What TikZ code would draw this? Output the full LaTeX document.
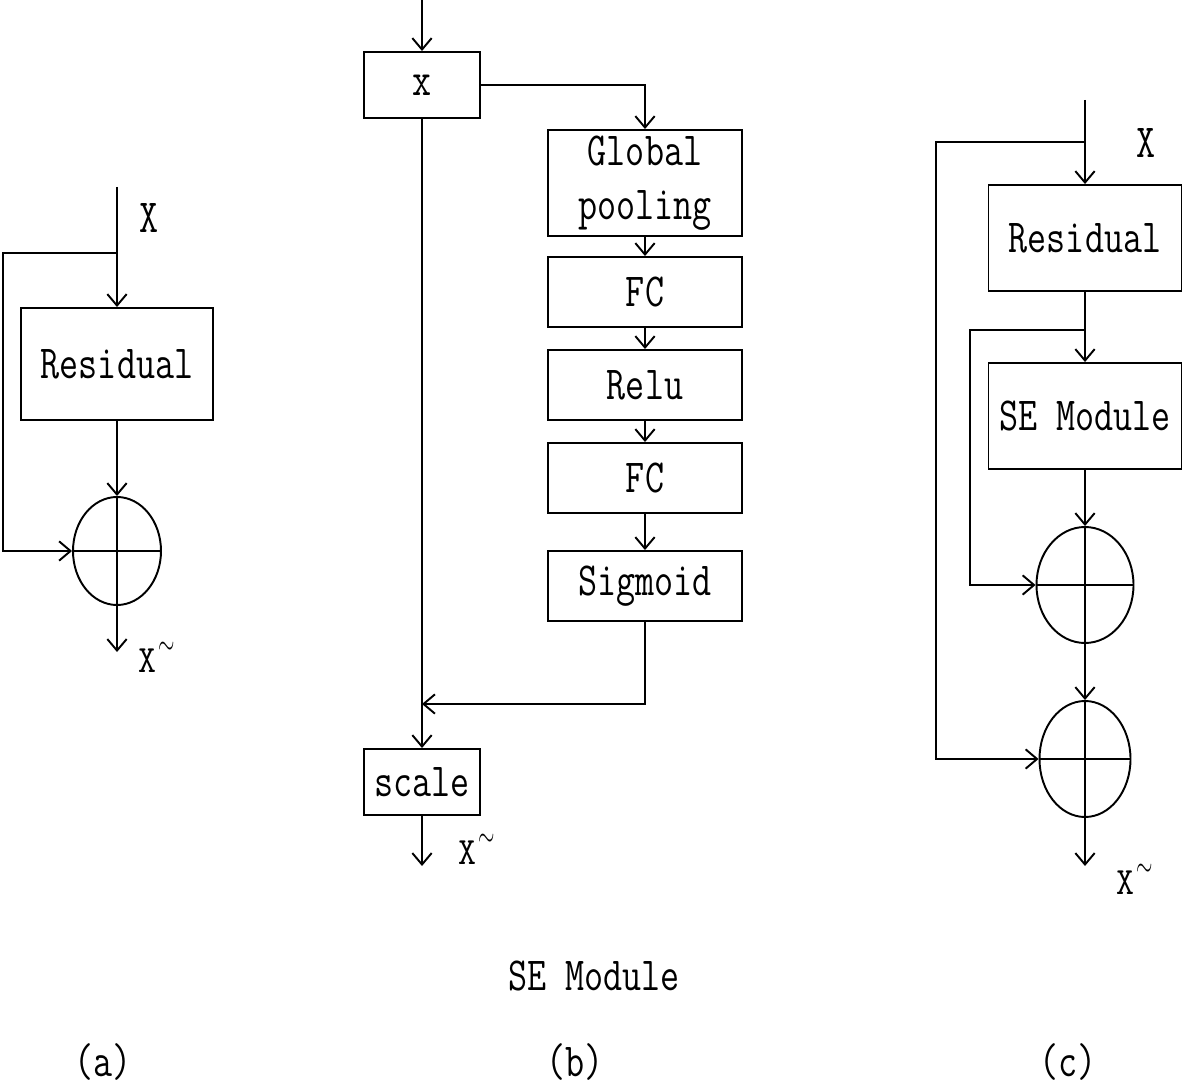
\documentclass[tikz,border=0pt]{standalone}
\usepackage{fontspec}
\usepackage{graphicx}
\newfontfamily\figfont{Latin Modern Mono}[FakeStretch=0.78]
\newfontfamily\lblfont{Latin Modern Mono}[FakeStretch=0.9]
\usetikzlibrary{arrows.meta,shapes.geometric}
\newcommand{\xtilde}{X\kern1pt\raisebox{10pt}{\fontsize{13}{13}\selectfont\scalebox{1}[1.6]{$\sim$}}}
\begin{document}
\begin{tikzpicture}[x=0.02cm,y=-0.02cm, line width=1.1pt,
  arr/.style={-{Straight Barb[length=6.5pt,width=11pt]}},
  blk/.style={draw, inner sep=0pt, font=\figfont\fontsize{27}{30.6}\selectfont, align=center},
  box/.style 2 args={blk, minimum width=#1*0.02cm, minimum height=#2*0.02cm},
  lbl/.style={inner sep=0pt, font=\figfont\fontsize{27}{30.6}\selectfont},
  outlbl/.style={inner sep=0pt, anchor=base west, font=\lblfont\fontsize{22}{24}\selectfont},
  sumnode/.style 2 args={draw, ellipse, inner sep=0pt, minimum width=#1*0.02cm, minimum height=#2*0.02cm}]
\useasboundingbox (0,0) rectangle (1183,1087);

% ---------- (a) ----------
\node[box={192}{112}] (resA) at (117,364) {Residual};
\node[sumnode={88}{108}] (sumA) at (117,551) {};
\draw (sumA.west) -- (sumA.east) (sumA.north) -- (sumA.south);
\coordinate (inA) at (117,187);
\coordinate (spA) at (117,253);
\coordinate (lpA) at (3,253);
\coordinate (outA) at (117,652);
\draw[arr] (inA) -- (resA.north);
\draw[arr] (spA) -- (lpA) |- (sumA.west);
\draw[arr] (resA.south) -- (sumA.north);
\draw[arr] (sumA.south) -- (outA);
\node[lbl] (xA) at (149,218) {X};
\node[outlbl] (xtA) at (138,672) {\xtilde};

% ---------- (b) ----------
\coordinate (inB) at (422,0);
\node[box={116}{66}] (xB) at (422,85) {x};
\node[box={194}{106}] (gp) at (645,183) {Global\\pooling};
\node[box={194}{70}] (fc1) at (645,292) {FC};
\node[box={194}{70}] (relu) at (645,385) {Relu};
\node[box={194}{70}] (fc2) at (645,478) {FC};
\node[box={194}{70}] (sig) at (645,586) {Sigmoid};
\node[box={116}{66}] (scale) at (422,782) {scale};
\coordinate (jB) at (422,704);
\coordinate (outB) at (422,866);
\draw[arr] (inB) -- (xB.north);
\draw[arr] (xB.east) -| (gp.north);
\draw[arr] (gp.south) -- (fc1.north);
\draw[arr] (fc1.south) -- (relu.north);
\draw[arr] (relu.south) -- (fc2.north);
\draw[arr] (fc2.south) -- (sig.north);
\draw[arr] (sig.south) |- (jB);
\draw[arr] (xB.south) -- (scale.north);
\draw[arr] (scale.south) -- (outB);
\node[outlbl] (xtB) at (458,864) {\xtilde};

% ---------- (c) ----------
\coordinate (inC) at (1085,100);
\coordinate (sp1) at (1085,142);
\coordinate (l1) at (936,142);
\coordinate (sp2) at (1085,330);
\coordinate (l2) at (970,330);
\coordinate (outC) at (1085,866);
\node[box={193}{106}] (resC) at (1085,238) {Residual};
\node[box={193}{106}] (se) at (1085,416) {SE Module};
\node[sumnode={97}{116}] (s1) at (1085,585) {};
\node[sumnode={91}{116}] (s2) at (1085,759) {};
\draw (s1.west) -- (s1.east) (s1.north) -- (s1.south);
\draw (s2.west) -- (s2.east) (s2.north) -- (s2.south);
\draw[arr] (inC) -- (resC.north);
\draw[arr] (sp1) -- (l1) |- (s2.west);
\draw[arr] (resC.south) -- (se.north);
\draw[arr] (sp2) -- (l2) |- (s1.west);
\draw[arr] (se.south) -- (s1.north);
\draw[arr] (s1.south) -- (s2.north);
\draw[arr] (s2.south) -- (outC);
\node[lbl] (xC) at (1146,143) {X};
\node[outlbl] (xtC) at (1116,894) {\xtilde};

% ---------- captions ----------
\node[lbl] (cap) at (594,976) {SE Module};
\node[lbl] (la) at (103,1062) {(a)};
\node[lbl] (lb) at (575,1062) {(b)};
\node[lbl] (lc) at (1068,1062) {(c)};
\end{tikzpicture}
\end{document}
